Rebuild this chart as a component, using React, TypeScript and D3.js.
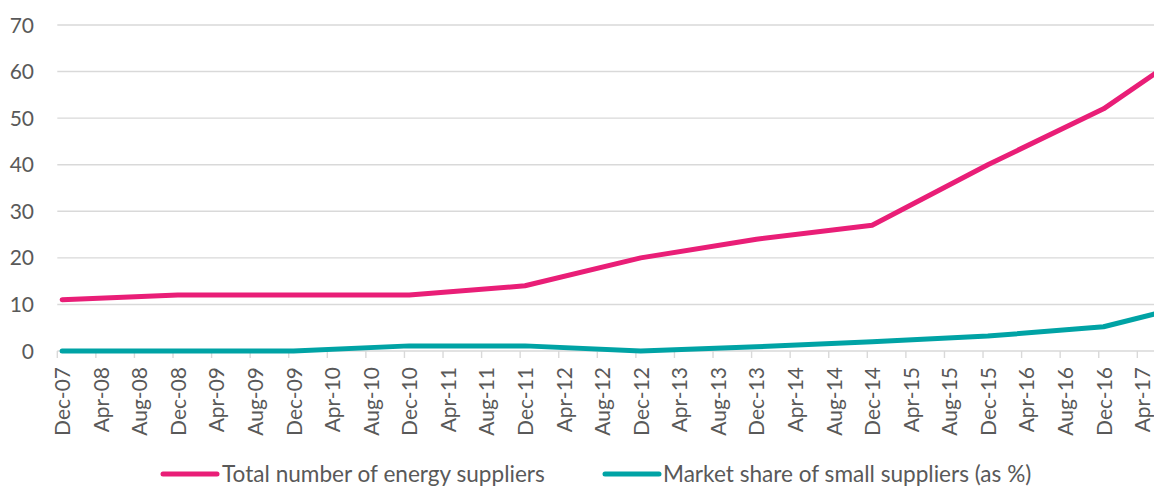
import React from 'react'
import * as d3 from 'd3'

// tick labels on the date axis (every 4 months)
const tickLabels = [
  'Dec-07', 'Apr-08', 'Aug-08', 'Dec-08', 'Apr-09', 'Aug-09', 'Dec-09', 'Apr-10',
  'Aug-10', 'Dec-10', 'Apr-11', 'Aug-11', 'Dec-11', 'Apr-12', 'Aug-12', 'Dec-12',
  'Apr-13', 'Aug-13', 'Dec-13', 'Apr-14', 'Aug-14', 'Dec-14', 'Apr-15', 'Aug-15',
  'Dec-15', 'Apr-16', 'Aug-16', 'Dec-16', 'Apr-17',
]

const pointDates = [
  'Dec-07', 'Dec-08', 'Dec-09', 'Dec-10', 'Dec-11', 'Dec-12',
  'Dec-13', 'Dec-14', 'Dec-15', 'Dec-16', 'Jun-17',
]
const totalSuppliers = [11, 12, 12, 12, 14, 20, 24, 27, 40, 52, 60.5]
const smallShare = [0, 0, 0, 1.1, 1.1, 0, 0.9, 2, 3.2, 5.2, 8.3]

const yTicks = [0, 10, 20, 30, 40, 50, 60, 70]

const seriesNames = ['Total number of energy suppliers', 'Market share of small suppliers (as %)']
const seriesColors = ['#E91E77', '#00A3A5']

const monthNames = ['Jan', 'Feb', 'Mar', 'Apr', 'May', 'Jun', 'Jul', 'Aug', 'Sep', 'Oct', 'Nov', 'Dec']

// months since Dec-07
function monthOffset(label: string) {
  const [m, yy] = label.split('-')
  return (2000 + +yy) * 12 + monthNames.indexOf(m) - (2007 * 12 + 11)
}

export default function App() {
  const width = 1154
  const height = 486
  const font = 'Lato, "Open Sans", sans-serif'
  const textColor = '#595959'
  const gridColor = '#D9D9D9'

  const x = d3.scaleLinear().domain([-0.5, 114.5]).range([57.3, 57.3 + 115 * 9.643])
  const y = d3.scaleLinear().domain([0, 70]).range([351, 25])

  const line = d3.line<[number, number]>()
    .x(d => x(d[0]))
    .y(d => y(d[1]))

  const series = [totalSuppliers, smallShare].map(vals =>
    pointDates.map((dt, i) => [monthOffset(dt), vals[i]] as [number, number])
  )

  const tickPositions = d3.range(0, 30).map(i => i * 4 - 0.5)

  return (
    <div style={{ position: 'fixed', left: 0, top: 0, width, height, background: '#fff' }}>
      <svg width={width} height={height} style={{ display: 'block', overflow: 'hidden' }}>
        <rect width={width} height={height} fill='#fff' />
        {/* gridlines */}
        {yTicks.map(t => (
          <line key={'g' + t} x1={x(-0.5)} x2={width + 20} y1={y(t)} y2={y(t)}
            stroke={gridColor} strokeWidth={1.4} />
        ))}
        {/* x tick marks */}
        {tickPositions.map(p => (
          <line key={'t' + p} x1={x(p)} x2={x(p)} y1={y(0)} y2={y(0) + 7}
            stroke={gridColor} strokeWidth={1.4} />
        ))}
        {/* y labels */}
        {yTicks.map(t => (
          <text key={'yl' + t} x={34} y={y(t)} dy='0.36em' textAnchor='end'
            fontFamily={font} fontSize={21} fill={textColor}>{t}</text>
        ))}
        {/* x labels */}
        {tickLabels.map(l => {
          const px = x(monthOffset(l))
          return (
            <text key={'xl' + l} transform={`translate(${px + 0.5},367) rotate(-90)`}
              dy='0.36em' textAnchor='end' fontFamily={font} fontSize={21} fill={textColor}>{l}</text>
          )
        })}
        {/* lines */}
        {series.map((s, i) => (
          <path key={'s' + i} d={line(s) || ''} fill='none' stroke={seriesColors[i]}
            strokeWidth={5} strokeLinejoin='round' strokeLinecap='round' />
        ))}
        {/* legend */}
        {[{ x0: 163, tx: 222 }, { x0: 605, tx: 663 }].map((p, i) => (
          <g key={'lg' + i}>
            <line x1={p.x0} x2={p.x0 + 54} y1={474} y2={474} stroke={seriesColors[i]}
              strokeWidth={5} strokeLinecap='round' />
            <text x={p.tx} y={474} dy='0.36em' fontFamily={font} fontSize={22.6} fill={textColor}>
              {seriesNames[i]}
            </text>
          </g>
        ))}
      </svg>
    </div>
  )
}
